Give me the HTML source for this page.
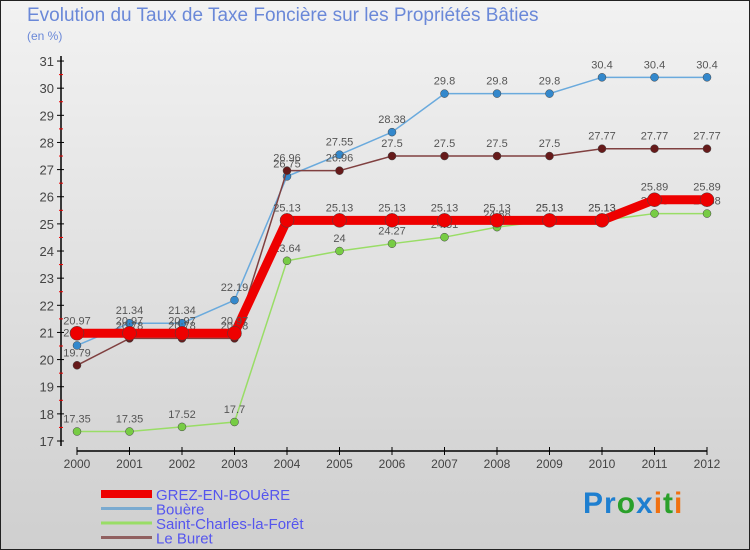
<!DOCTYPE html>
<html><head><meta charset="utf-8"><style>
body{margin:0}
#wrap{position:relative;width:750px;height:550px;box-sizing:border-box;border:1px solid #222;background:linear-gradient(#f2f2f2,#cfcfcf);font-family:"Liberation Sans",sans-serif;overflow:hidden}
.t{position:absolute}
</style></head><body>
<div id="wrap">
<div class="t" style="left:26px;top:4px;font-size:19px;color:#6a88d8">Evolution du Taux de Taxe Foncière sur les Propriétés Bâties</div>
<div class="t" style="left:26px;top:28px;font-size:12px;color:#6a88d8">(en %)</div>
<svg id="svg" width="750" height="550" style="position:absolute;left:0;top:0"></svg>
<div class="t" style="left:582px;top:486px;font-size:30px;font-weight:bold;letter-spacing:1px"><span style="color:#1e7fd0">Pr</span><span style="color:#2aa02a">o</span><span style="color:#1e7fd0">x</span><span style="color:#f07010">i</span><span style="color:#2aa02a">t</span><span style="color:#f07010">i</span></div>
</div>
<script>
const years=[2000,2001,2002,2003,2004,2005,2006,2007,2008,2009,2010,2011,2012];
const grez=[20.97,20.97,20.97,20.97,25.13,25.13,25.13,25.13,25.13,25.13,25.13,25.89,25.89];
const bouere=[20.52,21.34,21.34,22.19,26.75,27.55,28.38,29.8,29.8,29.8,30.4,30.4,30.4];
const stcharles=[17.35,17.35,17.52,17.7,23.64,24,24.27,24.51,24.88,25.13,25.13,25.38,25.38];
const leburet=[19.79,20.78,20.78,20.78,26.96,26.96,27.5,27.5,27.5,27.5,27.77,27.77,27.77];
const yTicks=[17,18,19,20,21,22,23,24,25,26,27,28,29,30,31];
const names=["GREZ-EN-BOUèRE","Bouère","Saint-Charles-la-Forêt","Le Buret"];
const NS="http://www.w3.org/2000/svg";
const svg=document.getElementById('svg');
const X=i=>76+i*52.5;
const Y=v=>440-(v-17)*27.14;
function mk(tag,at,parent){const e=document.createElementNS(NS,tag);for(const k in at)e.setAttribute(k,at[k]);(parent||svg).appendChild(e);return e;}
let a=mk('line',{x1:60,y1:55,x2:60,y2:445,stroke:'#000','stroke-width':1.5});


a=mk('line',{x1:76,y1:450,x2:706,y2:450,stroke:'#000','stroke-width':1.5});


yTicks.forEach(v=>{
 mk('line',{x1:56,y1:Y(v),x2:63,y2:Y(v),stroke:'#000'});
 if(v<31)mk('line',{x1:58,y1:Y(v+0.5),x2:62,y2:Y(v+0.5),stroke:'#e00'});
 const t=mk('text',{x:53,y:Y(v)+5,'text-anchor':'end','font-size':13,fill:'#444'});t.textContent=v;
 
 
});
years.forEach((y,i)=>{
 mk('line',{x1:X(i),y1:446,x2:X(i),y2:454,stroke:'#000'});
 const t=mk('text',{x:X(i),y:467,'text-anchor':'middle','font-size':12,fill:'#444'});t.textContent=y;
 
 
});
const series=[
 {d:stcharles,c:'#99dd66',f:'#77cc44',w:1.5,r:4,n:'saint-charles'},
 {d:bouere,c:'#6aaadd',f:'#3388cc',w:1.5,r:4,n:'bouere'},
 {d:leburet,c:'#804040',f:'#661a1a',w:1.5,r:4,n:'le-buret'},
 {d:grez,c:'#ee0000',f:'#ee0000',w:9,r:7,n:'grez'}
];
series.forEach(s=>{
 const p=mk('polyline',{points:s.d.map((v,i)=>X(i)+','+Y(v)).join(' '),fill:'none',stroke:s.c,'stroke-width':s.w});
 
 
 s.d.forEach((v,i)=>{
  const c=mk('circle',{cx:X(i),cy:Y(v),r:s.r,fill:s.f,stroke:'#444','stroke-width':0.5});
  
  
  const t=mk('text',{x:X(i),y:Y(v)-9,'text-anchor':'middle','font-size':11,fill:'#555'});t.textContent=v;
  
  
 });
});
const lc=['#ee0000','#7aaad0','#99dd66','#906060'],lw=[8,3,3,3];
names.forEach((n,i)=>{
 const y=493+i*14.5;
 const l=mk('line',{x1:100,y1:y,x2:151,y2:y,stroke:lc[i],'stroke-width':lw[i]});
 
 
 const t=mk('text',{x:155,y:y+6,'font-size':15,fill:'#5555ee'});t.textContent=n;
 
 
});
</script>
</body></html>
